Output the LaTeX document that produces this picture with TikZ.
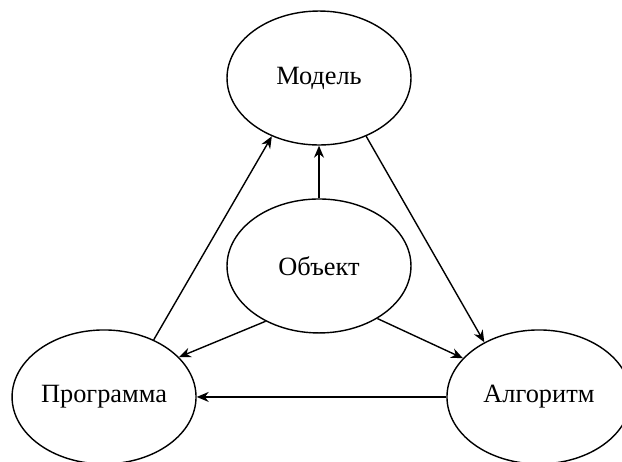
\documentclass[tikz,border=0pt]{standalone}
\usepackage{fontspec}
\setmainfont{Liberation Serif}
\usetikzlibrary{arrows.meta, shapes.geometric, positioning}

\begin{document}
\begin{tikzpicture}[x=0.02cm,y=-0.02cm,on grid,line width=0.8pt,>={Stealth[length=2.4mm,width=2mm]},
      every node/.style={ellipse,draw,minimum width=3.68cm,minimum height=2.68cm,inner sep=0pt,font=\fontsize{15}{18}\selectfont}]
      \clip (0,0) rectangle (622,461);
      \node (model) at (319,78) {Модель};
      \node (obj) [below=3.76cm of model] {Объект};
      \node (prog) [below left=2.62cm and 4.3cm of obj] {Программа};
      \node (alg) [below right=2.62cm and 4.4cm of obj] {Алгоритм};
      \path[->] (obj) edge (model)
        (prog.49) edge (model.231)
        (model.309) edge (alg.135)
        (obj.-42) edge (alg.153)
        (obj.226) edge (prog.28)
        (alg) edge (prog);
    \end{tikzpicture}
\end{document}
